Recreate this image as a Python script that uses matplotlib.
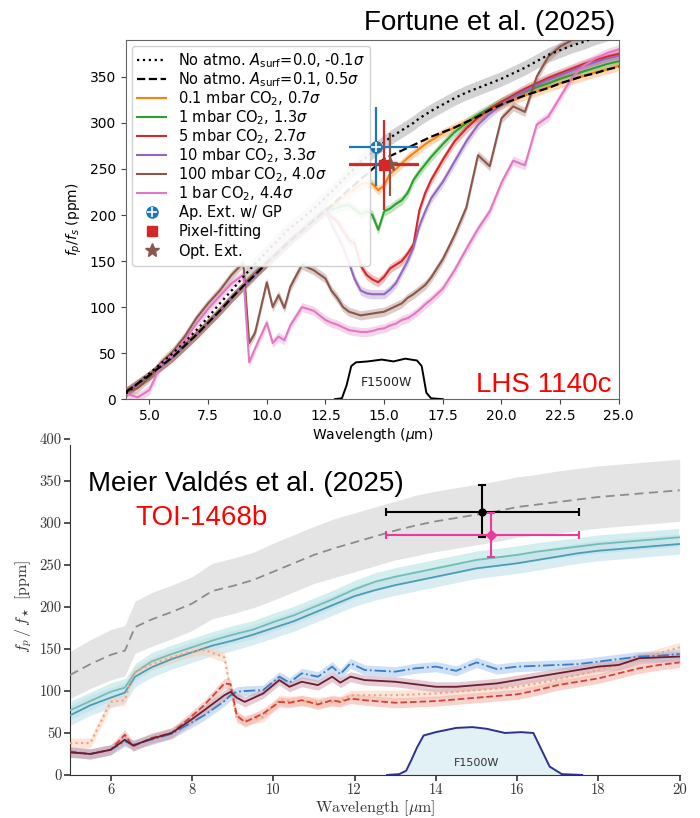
import matplotlib.pyplot as plt
import numpy as np

plt.rcParams['font.family'] = ['DejaVu Sans']

# ---------------- top panel: Fortune et al. (2025), LHS 1140c ----------------
wl_top = [4.0, 4.5, 5.0, 5.5, 6.0, 6.5, 7.0, 7.5, 8.0, 8.5, 9.0, 9.25, 9.5, 10.0, 10.25,
          10.5, 10.75, 11.0, 11.5, 12.0, 12.5, 12.75, 13.0, 13.25, 13.5, 13.75, 14.0,
          14.25, 14.5, 14.75, 15.0, 15.25, 15.5, 15.75, 16.0, 16.25, 16.5, 16.75, 17.0,
          17.5, 18.0, 18.5, 19.0, 19.5, 20.0, 20.5, 21.0, 21.5, 22.0, 22.5, 23.0, 23.5,
          24.0, 24.5, 25.0]
no_atmo_a00 = [6, 17, 28, 39, 50, 62, 75, 89, 104, 118, 133, 140, 147, 160, 167, 173, 180,
               186, 196, 207, 219, 225, 232, 238, 245, 251, 258, 263, 269, 274, 279, 284,
               288, 292, 296, 300, 305, 309, 313, 320, 327, 333, 338, 343, 348, 354, 360,
               367, 374, 379, 384, 388, 393, 397, 401]
no_atmo_a01 = [8, 17, 26, 36, 46, 58, 70, 83, 96, 110, 123, 129, 135, 148, 154, 160, 166,
               172, 183, 194, 205, 210, 216, 222, 228, 233, 239, 244, 250, 255, 261, 264,
               267, 270, 273, 276, 279, 282, 285, 290, 295, 301, 307, 314, 320, 325, 330,
               334, 338, 343, 347, 351, 354, 358, 361]
co2_0p1mbar = [8, 17, 26, 36, 46, 58, 70, 83, 96, 110, 123, 129, 136, 148, 154, 160, 166,
               172, 183, 194, 205, 210, 214, 219, 224, 229, 233, 235, 234, 227, 232, 245,
               250, 256, 262, 267, 272, 277, 281, 289, 295, 301, 307, 314, 320, 325, 330,
               334, 339, 343, 347, 351, 355, 358, 362]
co2_1mbar = [8, 17, 26, 36, 46, 58, 70, 83, 96, 110, 123, 130, 136, 148, 154, 160, 166,
             172, 183, 194, 205, 206, 208, 210, 211, 206, 201, 204, 200, 184, 204, 207,
             212, 216, 224, 238, 247, 255, 263, 277, 290, 300, 309, 316, 323, 329, 334,
             339, 343, 348, 352, 356, 360, 364, 367]
co2_5mbar = [8, 17, 26, 36, 46, 58, 70, 83, 96, 110, 123, 130, 136, 148, 154, 160, 166,
             172, 183, 194, 205, 198, 193, 183, 173, 169, 145, 135, 130, 127, 133, 142,
             146, 150, 158, 168, 205, 224, 238, 260, 280, 294, 306, 315, 323, 330, 337,
             343, 349, 354, 359, 364, 368, 372, 375]
co2_10mbar = [8, 17, 26, 36, 46, 58, 70, 83, 96, 110, 123, 128, 135, 148, 154, 160, 166,
              172, 183, 194, 205, 190, 178, 165, 148, 130, 118, 115, 114, 114, 114, 119,
              126, 138, 150, 165, 188, 204, 218, 236, 258, 280, 298, 310, 320, 328, 335,
              341, 347, 352, 357, 362, 366, 370, 373]
co2_100mbar = [8, 12, 24, 40, 52, 68, 88, 104, 118, 135, 148, 61, 72, 127, 100, 113, 99,
               122, 146, 140, 131, 118, 110, 100, 95, 93, 91, 92, 93, 94, 95, 98, 101, 104,
               110, 114, 119, 124, 132, 152, 178, 208, 265, 253, 305, 318, 312, 350, 372,
               383, 390, 396, 400, 405, 410]
co2_1bar = [6, 2, 10, 38, 48, 64, 82, 98, 112, 126, 135, 40, 55, 83, 61, 68, 64, 80, 100,
            96, 86, 83, 81, 78, 75, 74, 73, 73, 74, 76, 77, 80, 82, 86, 88, 92, 97, 103,
            108, 120, 140, 163, 185, 204, 235, 259, 254, 298, 307, 328, 349, 362, 370,
            376, 380]

wl_filter_top = [12.9, 13.2, 13.4, 13.6, 13.8, 14.3, 14.9, 15.4, 15.9, 16.4, 16.6, 16.8, 17.0, 17.5]
filter_top = [0, 1, 15, 36, 40, 41, 43, 41, 44, 42, 36, 7, 1, 0]

# measurements: (wavelength, ppm, x-err low, x-err high, y-err)
apext_gp = (14.67, 274, 1.17, 1.79, 43)
pixel_fit = (15.0, 254, 1.5, 1.5, 49)
opt_ext = (15.26, 255, 1.76, 1.24, 34)

# ---------------- bottom panel: Meier Valdes et al. (2025), TOI-1468b ----------------
wl_smooth = [5.0, 5.5, 6.0, 6.35, 6.6, 7.0, 7.5, 8.0, 8.5, 9.0, 9.5, 10.0, 10.5, 11.0,
             11.5, 12.0, 12.5, 13.0, 13.5, 14.0, 14.5, 15.0, 15.5, 16.0, 16.5, 17.0, 17.5,
             18.0, 18.5, 19.0, 19.5, 20.0]
bare_rock = [119, 132, 143, 148, 176, 185, 194, 204, 219, 225, 232, 242, 252, 262, 270, 277,
             284, 291, 297, 302, 306, 310, 314, 319, 322, 325, 328, 331, 333, 335, 337, 339]
bare_rock_err = [28, 29, 30, 30, 31, 32, 32, 32, 33, 33, 33, 34, 34, 34, 35, 35, 35, 35, 36,
                 36, 36, 36, 36, 36, 36, 37, 37, 37, 37, 37, 37, 37]
teal_upper = [77, 88, 99, 104, 122, 135, 144, 152, 160, 167, 173, 182, 190, 200, 210, 221,
              230, 236, 241, 246, 251, 256, 259, 262, 266, 269, 272, 275, 277, 279, 281, 283]
teal_lower = [71, 83, 92, 98, 117, 128, 138, 146, 154, 160, 167, 175, 183, 193, 203, 213,
              220, 226, 231, 236, 241, 246, 249, 252, 256, 260, 264, 267, 269, 271, 273, 275]

wl_low = [5.0, 5.5, 6.0, 6.35, 6.55, 7.0, 7.5, 7.9, 8.3, 8.8, 8.95, 9.1, 9.3, 9.75, 10.15,
          10.4, 10.7, 11.1, 11.45, 11.65, 11.9, 12.25, 13.0, 13.5, 14.0, 14.5, 15.0, 15.5,
          16.0, 16.5, 17.0, 17.5, 18.0, 18.5, 19.0, 19.5, 20.0]
blue_dashdot = [27, 25, 30, 40, 36, 42, 49, 60, 71, 88, 95, 99, 100, 101, 117, 110, 121, 117,
                129, 120, 133, 125, 123, 127, 129, 124, 134, 126, 129, 130, 131, 132, 135,
                138, 141, 142, 144]
maroon_solid = [27, 25, 30, 42, 35, 43, 50, 63, 77, 95, 99, 92, 87, 97, 113, 105, 111, 107,
                117, 110, 117, 113, 111, 108, 105, 105, 107, 109, 113, 117, 121, 125, 129,
                131, 139, 140, 141]
red_dashed = [28, 25, 30, 48, 34, 44, 50, 66, 83, 109, 108, 71, 63, 73, 87, 86, 89, 84, 89,
              87, 91, 89, 86, 87, 88, 90, 92, 94, 96, 101, 107, 111, 115, 121, 127, 131, 134]
orange_dotted = [38, 38, 87, 89, 121, 132, 140, 146, 149, 140, 100, 68, 65, 69, 89, 88, 88,
                 87, 87, 88, 95, 95, 95, 96, 97, 99, 101, 103, 105, 109, 114, 119, 125, 131,
                 138, 145, 152]

wl_filter_bot = [12.8, 13.1, 13.27, 13.4, 13.54, 13.7, 14.0, 14.5, 14.9, 15.25, 15.7, 16.1,
                 16.4, 16.6, 16.8, 17.1, 17.6]
filter_bot = [0, 1, 5, 18, 33, 47, 51, 56, 57, 55, 50, 51, 50, 30, 10, 1, 0]

point_black = (15.14, 313, 2.36, 2.38, 30, 32)
point_pink = (15.36, 286, 2.58, 2.16, 26, 26)

fig = plt.figure(figsize=(7, 8.18), dpi=100)

# ---- top ----
ax1 = fig.add_axes([0.18, 0.512, 0.704, 0.439])
ax1.set_zorder(2)
wl = np.array(wl_top)

d0 = np.array(no_atmo_a00)
d1 = np.array(no_atmo_a01)
ax1.fill_between(wl, d0 - 8, d0 + 8, where=wl >= 8.9, color='gray', alpha=0.35, lw=0,
                 zorder=2)

models = [(co2_0p1mbar, 'tab:orange', '0.1 mbar CO$_2$, 0.7$\\sigma$'),
          (co2_1mbar, 'tab:green', '1 mbar CO$_2$, 1.3$\\sigma$'),
          (co2_5mbar, 'tab:red', '5 mbar CO$_2$, 2.7$\\sigma$'),
          (co2_10mbar, 'tab:purple', '10 mbar CO$_2$, 3.3$\\sigma$'),
          (co2_100mbar, 'tab:brown', '100 mbar CO$_2$, 4.0$\\sigma$'),
          (co2_1bar, 'tab:pink', '1 bar CO$_2$, 4.4$\\sigma$')]
model_handles = []
for vals, col, lab in models:
    v = np.array(vals)
    ax1.fill_between(wl, v - 5, v + 5, color=col, alpha=0.3, lw=0, zorder=2)
    h, = ax1.plot(wl, v, color=col, lw=1.5, label=lab, zorder=3)
    model_handles.append(h)

h_dot, = ax1.plot(wl, d0, color='black', ls=':', lw=1.6, zorder=4,
                  label='No atmo. $A_\\mathrm{surf}$=0.0, -0.1$\\sigma$')
h_dash, = ax1.plot(wl, d1, color='black', ls='--', lw=1.6, zorder=4,
                   label='No atmo. $A_\\mathrm{surf}$=0.1, 0.5$\\sigma$')

ax1.plot(wl_filter_top, filter_top, color='black', lw=1.4, zorder=5)
ax1.text(15.1, 18, 'F1500W', ha='center', va='center', fontsize=9, color='#222222')

pts = [(opt_ext, 'tab:brown'), (pixel_fit, 'tab:red'), (apext_gp, 'tab:blue')]
for (x, y, xl, xh, ye), col in pts:
    ax1.errorbar(x, y, xerr=[[xl], [xh]], yerr=ye, fmt='none', ecolor=col,
                 elinewidth=1.6, zorder=6)
h_star, = ax1.plot(opt_ext[0], opt_ext[1], '*', color='tab:brown', ms=10, zorder=7)
h_sq, = ax1.plot(pixel_fit[0], pixel_fit[1], 's', color='tab:red', ms=7, zorder=8)
h_circ, = ax1.plot(apext_gp[0], apext_gp[1], 'o', color='tab:blue', ms=8, zorder=8)
h_plus, = ax1.plot(apext_gp[0], apext_gp[1], '+', color='white', ms=7, mew=1.2, zorder=9)

# subscript strut keeps all legend rows the same height
strut = '$_{\\,}$'
handles = [h_dot, h_dash] + model_handles + [(h_circ, h_plus), h_sq, h_star]
labels = [h.get_label() for h in [h_dot, h_dash] + model_handles] + \
         ['Ap. Ext. w/ GP' + strut, 'Pixel-fitting' + strut, 'Opt. Ext.' + strut]
ax1.legend(handles, labels, loc='upper left', fontsize=10.5, framealpha=0.9,
           edgecolor='#cccccc', borderaxespad=0.4, labelspacing=0.02,
           handlelength=2.0, borderpad=0.35)

ax1.set_xlim(4, 25)
ax1.set_ylim(0, 390)
ax1.set_xticks([5, 7.5, 10, 12.5, 15, 17.5, 20, 22.5, 25])
ax1.set_xticklabels(['5.0', '7.5', '10.0', '12.5', '15.0', '17.5', '20.0', '22.5', '25.0'])
ax1.set_yticks(range(0, 351, 50))
ax1.tick_params(labelsize=10, color='#444444')
for s in ax1.spines.values():
    s.set_color('#666666')
ax1.set_xlabel('Wavelength ($\\mu$m)', fontsize=10, labelpad=2)
ax1.set_ylabel('$f_p/f_s$ (ppm)', fontsize=10)
ax1.text(0.986, 0.02, 'LHS 1140c', transform=ax1.transAxes, ha='right', va='baseline',
         fontsize=20, color='red', family='Liberation Sans')
fig.text(0.879, 0.963, 'Fortune et al. (2025)', ha='right', va='baseline', fontsize=20,
         family='Liberation Sans')

# ---- bottom ----
ax2 = fig.add_axes([0.1, 0.0526, 0.871, 0.4107])
ax2.set_facecolor('none')
ws = np.array(wl_smooth)
br = np.array(bare_rock)
be = np.array(bare_rock_err)
ax2.fill_between(ws, br - be, br + be, color='#e4e4e4', lw=0, zorder=1)
ax2.plot(ws, br, color='#8c8c8c', ls=(0, (5, 3)), lw=1.3, zorder=3)

tu = np.array(teal_upper)
tl = np.array(teal_lower)
ax2.fill_between(ws, tu - 12, tu + 12, facecolor='#d3eeee', edgecolor='white', lw=1.5, zorder=2)
ax2.fill_between(ws, tl - 12, tl + 12, color='#bfe0ea', alpha=0.6, lw=0, zorder=2)
ax2.plot(ws, tu, color='#72bdb6', lw=1.3, zorder=3)
ax2.plot(ws, tl, color='#4c9db5', lw=1.3, zorder=3)

wlo = np.array(wl_low)
low_models = [(orange_dotted, '#f2a27e', '#fbd2bc', ':', 1.5),
              (red_dashed, '#cf4338', '#f3aea5', '--', 1.3),
              (blue_dashdot, '#3b7cc4', '#a6c8ee', '-.', 1.3),
              (maroon_solid, '#6b1e33', '#cfa3ad', '-', 1.3)]
for vals, col, band, ls, lw in low_models:
    v = np.array(vals)
    ax2.fill_between(wlo, v - 6, v + 6, color=band, alpha=0.55, lw=0, zorder=2)
    ax2.plot(wlo, v, color=col, ls=ls, lw=lw, zorder=3)

ax2.fill_between(wl_filter_bot, 0, filter_bot, color='#e2f1f6', lw=0, zorder=2)
ax2.plot(wl_filter_bot, filter_bot, color='#2e3192', lw=1.4, zorder=3)
ax2.text(15.0, 14, 'F1500W', ha='center', va='center', fontsize=8, color='#333333')

x, y, xl, xh, yl, yh = point_black
ax2.errorbar(x, y, xerr=[[xl], [xh]], yerr=[[yl], [yh]], fmt='o', color='black', ms=5,
             capsize=3, elinewidth=1.5, capthick=1.5, zorder=6)
x, y, xl, xh, yl, yh = point_pink
ax2.errorbar(x, y, xerr=[[xl], [xh]], yerr=[[yl], [yh]], fmt='D', color='#ec3a9c', ms=5,
             capsize=3, elinewidth=1.5, capthick=1.5, zorder=6)

ax2.set_xlim(5, 20)
ax2.set_ylim(0, 400)
ax2.set_xticks(range(6, 21, 2))
ax2.set_yticks(range(0, 401, 50))
ax2.spines['top'].set_visible(False)
ax2.spines['right'].set_visible(False)
ax2.spines['left'].set_bounds(0, 393)
for s in ax2.spines.values():
    s.set_color('#333333')
ax2.tick_params(direction='out', length=4, width=1.2, color='#333333', pad=2)
for lab in ax2.get_xticklabels() + ax2.get_yticklabels():
    lab.set_fontfamily('cmr10')
    lab.set_fontsize(10.5)
    lab.set_color('#333333')
ax2.set_xlabel('Wavelength [$\\mu$m]', fontsize=11.5, fontfamily='cmr10', math_fontfamily='cm',
               color='#333333', labelpad=1)
ax2.set_ylabel('$f_p\\,/\\,f_\\star$ [ppm]', fontsize=11.5, fontfamily='cmr10',
               math_fontfamily='cm', color='#333333')

fig.text(0.1257, 0.3998, 'Meier Valdés et al. (2025)', ha='left', va='baseline', fontsize=20,
         family='Liberation Sans')
fig.text(0.193, 0.358, 'TOI-1468b', ha='left', va='baseline', fontsize=20, color='red',
         family='Liberation Sans')

fig.savefig('out.png', dpi=100)
